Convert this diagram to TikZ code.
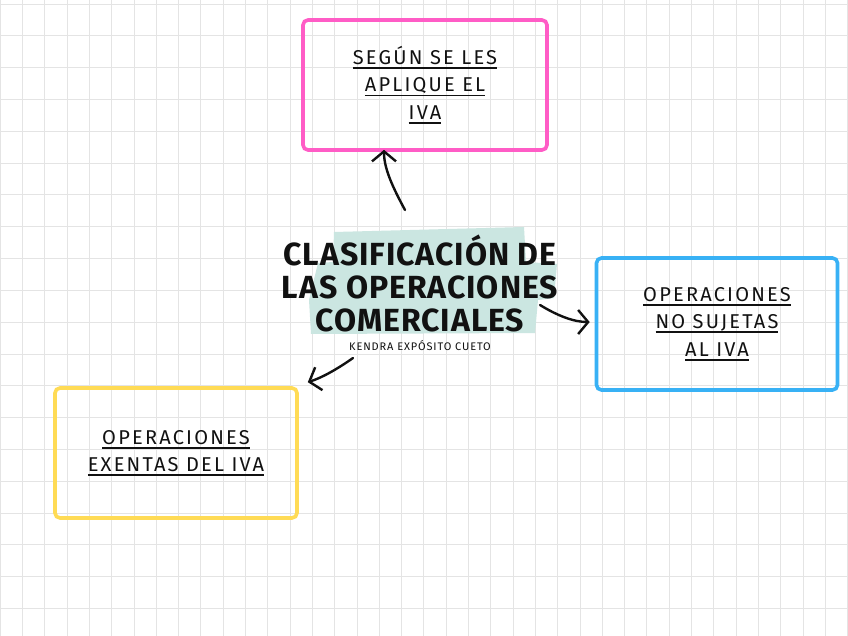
\documentclass[tikz,border=0pt]{standalone}
\usepackage{fontspec}
\setmainfont{Fira Sans}
\usepackage{xcolor}
\usepackage{tikz}
\usetikzlibrary{arrows.meta}
\definecolor{gridGray}{HTML}{E4E4E4}
\definecolor{boxPink}{HTML}{FF5CC6}
\definecolor{boxBlue}{HTML}{38B1F5}
\definecolor{boxYellow}{HTML}{FFDB55}
\definecolor{markTeal}{HTML}{CBE6E1}
\definecolor{inkBlack}{HTML}{111111}
% thick hand-style underline
\newcommand{\inkline}[1]{\setbox0\hbox{#1}\rlap{\rule[-4.5pt]{\wd0}{1.8pt}}\box0}

\begin{document}
\begin{tikzpicture}[x=1pt, y=-1pt,
    gridline/.style={gridGray, line width=0.6pt},
    topicbox/.style={line width=3.6pt, rounded corners=5pt, align=center,
      font=\fontsize{20}{27.5}\selectfont\addfontfeatures{LetterSpace=11}, text=inkBlack},
    conn/.style={inkBlack, line width=2.4pt, line cap=round,
      -{Straight Barb[length=10pt, width=24pt, line width=2.4pt]}}]
        \useasboundingbox (0,0) rectangle (848,636);
        \fill[white] (0,0) rectangle (848,636);
        % ── squared paper ──
        \foreach \i in {0,...,38} {
          \draw[gridline] (\i*22.3, 0) -- (\i*22.3, 636);
        }
        \foreach \j in {0,...,20} {
          \draw[gridline] (0, \j*31.8+4) -- (848, \j*31.8+4);
        }
        % ── marker stroke behind the title ──
        \fill[markTeal] (334,232) -- (524,227) -- (526,262) -- (557,264) -- (554,298)
          -- (538,300) -- (535,333) -- (311,334) -- (309,300) -- (318,263) -- (333,262) -- cycle;
        \node[font=\fontsize{32}{33}\selectfont\bfseries\addfontfeatures{LetterSpace=3}, text=inkBlack, align=center] (title)
          at (420,283) {CLASIFICACIÓN DE\\LAS OPERACIONES\\COMERCIALES};
        \node[font=\fontsize{11}{12}\selectfont\addfontfeatures{LetterSpace=8}, text=inkBlack] (author)
          at (420,346) {KENDRA EXPÓSITO CUETO};
        % ── the three branches ──
        \node[topicbox, draw=boxPink, minimum width=244, minimum height=130] (pink)
          at (425,85) {\inkline{SEGÚN SE LES}\\\inkline{APLIQUE EL}\\\inkline{IVA}};
        \node[topicbox, draw=boxBlue, minimum width=241, minimum height=132] (blue)
          at (717,324) {\inkline{OPERACIONES}\\\inkline{NO SUJETAS}\\\inkline{AL IVA}};
        \node[topicbox, draw=boxYellow, minimum width=242, minimum height=130] (yellow)
          at (176,453) {\inkline{OPERACIONES}\\\inkline{EXENTAS DEL IVA}};
        % ── arrows out of the title ──
        \coordinate (upTail) at (405,210);
        \coordinate (rightTail) at (540,305);
        \coordinate (leftTail) at (353,358);
        \draw[conn] (upTail) .. controls (392,186) and (384,168) .. ([xshift=-41pt, yshift=2pt]pink.south);
        \draw[conn] (rightTail) .. controls (558,316) and (574,322) .. ([xshift=-5pt, yshift=2pt]blue.west);
        \draw[conn] (leftTail) .. controls (336,370) and (321,378) .. ([xshift=9pt, yshift=4pt]yellow.north east);
      \end{tikzpicture}
\end{document}
